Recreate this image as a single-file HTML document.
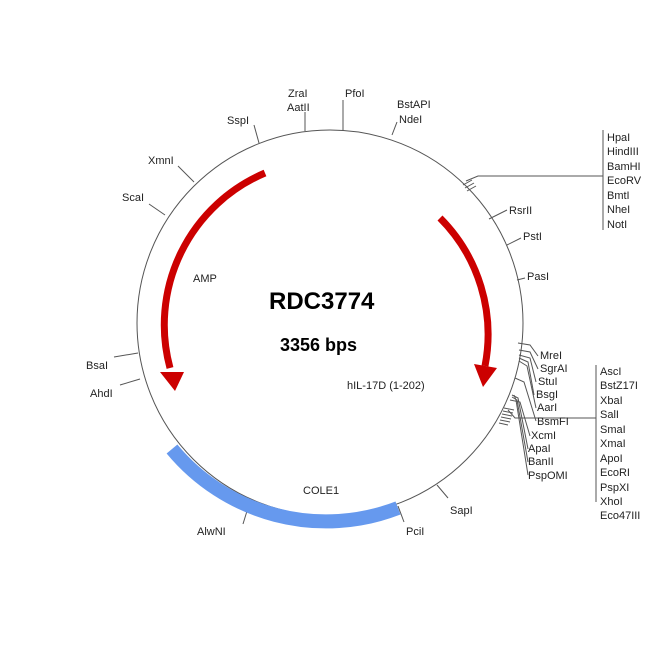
<!DOCTYPE html>
<html><head><meta charset="utf-8"><style>body{margin:0;background:#fff}svg{display:block}text{font-family:"Liberation Sans",sans-serif;font-size:11px;fill:#222}</style></head><body>
<svg width="650" height="650" viewBox="0 0 650 650">
<circle cx="330" cy="323" r="193" fill="none" stroke="#555" stroke-width="1"/>
<g stroke="#555" stroke-width="1" fill="none">
<line x1="305" y1="131" x2="305" y2="112"/>
<line x1="343" y1="131" x2="343" y2="100"/>
<line x1="392" y1="135" x2="397" y2="122"/>
<line x1="259" y1="143" x2="254" y2="125"/>
<line x1="194" y1="182" x2="178" y2="166"/>
<line x1="165" y1="215" x2="149" y2="204"/>
<line x1="489" y1="219" x2="507" y2="210"/>
<line x1="507" y1="245" x2="521" y2="238"/>
<line x1="517" y1="280" x2="525" y2="278"/>
<line x1="138" y1="353" x2="114" y2="357"/>
<line x1="140" y1="379" x2="120" y2="385"/>
<line x1="437" y1="485" x2="448" y2="498"/>
<line x1="398" y1="506" x2="404" y2="522"/>
<line x1="247" y1="511" x2="243" y2="524"/>
<path d="M466 181 L478 176 L603 176"/>
<path d="M463 185 L472 180 M465 188 L474 183 M467 191 L476 186"/>
<line x1="603" y1="130" x2="603" y2="230"/>
<path d="M518 343 L530 345 L538 356"/>
<path d="M519 350 L530 352 L538 369"/>
<path d="M519 355 L530 358 L536 382"/>
<path d="M519 358 L528 362 L534 395"/>
<path d="M519 361 L527 366 L536 408"/>
<path d="M515 378 L524 382 L536 421"/>
<path d="M510 400 L520 402 L530 436"/>
<path d="M512 395 L518 398 L528 449"/>
<path d="M512 397 L517 400 L528 462"/>
<path d="M514 395 L516 400 L528 475"/>
<path d="M508 410 L515 418 L596 418"/>
<path d="M504 408 L514 410 M503 411 L513 413 M502 414 L512 416 M501 417 L511 419 M500 420 L510 422 M499 423 L508 425"/>
<line x1="596" y1="365" x2="596" y2="502"/>
</g>
<path d="M265 173 A165 165 0 0 0 170 368" fill="none" stroke="#c00" stroke-width="7"/>
<polygon points="160,372 184,372 175,391" fill="#c00"/>
<path d="M440 218 A165 165 0 0 1 485 366" fill="none" stroke="#c00" stroke-width="7"/>
<polygon points="474,364 497,368 483,387" fill="#c00"/>
<path d="M172 449 A200 200 0 0 0 398 508" fill="none" stroke="#6699ee" stroke-width="14"/>
<g>
<text x="288" y="97">ZraI</text><text x="287" y="111">AatII</text>
<text x="345" y="97">PfoI</text>
<text x="397" y="108">BstAPI</text><text x="399" y="123">NdeI</text>
<text x="227" y="124">SspI</text>
<text x="148" y="164">XmnI</text>
<text x="122" y="201">ScaI</text>
<text x="509" y="214">RsrII</text>
<text x="523" y="240">PstI</text>
<text x="527" y="280">PasI</text>
<text x="86" y="369">BsaI</text>
<text x="90" y="397">AhdI</text>
<text x="450" y="514">SapI</text>
<text x="406" y="535">PciI</text>
<text x="197" y="535">AlwNI</text>
<text x="303" y="494">COLE1</text>
<text x="347" y="389">hIL-17D (1-202)</text>
<text x="193" y="282">AMP</text>
<text x="269" y="309" style="font-size:24px;font-weight:bold;fill:#000">RDC3774</text>
<text x="280" y="351" style="font-size:18px;font-weight:bold;fill:#000">3356 bps</text>
<text x="607" y="141">HpaI</text><text x="607" y="155">HindIII</text><text x="607" y="170">BamHI</text><text x="607" y="184">EcoRV</text><text x="607" y="199">BmtI</text><text x="607" y="213">NheI</text><text x="607" y="228">NotI</text>
<text x="540" y="359">MreI</text><text x="540" y="372">SgrAI</text><text x="538" y="385">StuI</text><text x="536" y="398">BsgI</text><text x="537" y="411">AarI</text><text x="537" y="425">BsmFI</text><text x="531" y="439">XcmI</text><text x="528" y="452">ApaI</text><text x="528" y="465">BanII</text><text x="528" y="479">PspOMI</text>
<text x="600" y="375">AscI</text><text x="600" y="389">BstZ17I</text><text x="600" y="404">XbaI</text><text x="600" y="418">SalI</text><text x="600" y="433">SmaI</text><text x="600" y="447">XmaI</text><text x="600" y="462">ApoI</text><text x="600" y="476">EcoRI</text><text x="600" y="491">PspXI</text><text x="600" y="505">XhoI</text><text x="600" y="519">Eco47III</text>
</g>
</svg>
</body></html>
